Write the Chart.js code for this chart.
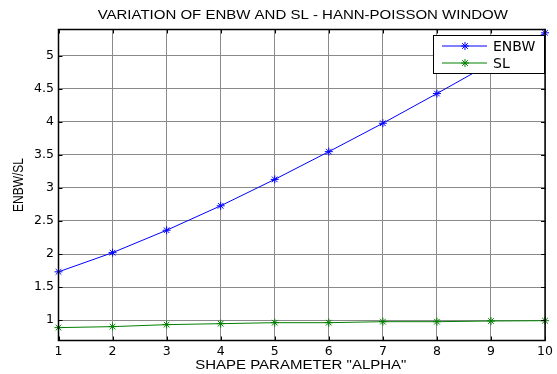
<!DOCTYPE html>
<html>
<head>
<meta charset="utf-8">
<script src="https://cdn.jsdelivr.net/npm/chart.js@4/dist/chart.umd.min.js"></script>
<style>
  html, body { margin: 0; padding: 0; background: #fff; }
  #wrap { width: 557px; height: 374px; }
</style>
</head>
<body>
<div id="wrap"><canvas id="hpChart" width="557" height="374"></canvas></div>
<script>
// values
const alpha = [1, 2, 3, 4, 5, 6, 7, 8, 9, 10];
const enbw = [1.73, 2.02, 2.36, 2.73, 3.13, 3.55, 3.98, 4.43, 4.89, 5.35];
const sl = [0.885, 0.90, 0.93, 0.945, 0.96, 0.96, 0.975, 0.975, 0.985, 0.99];
const yTicks = [1, 1.5, 2, 2.5, 3, 3.5, 4, 4.5, 5];
const xTicks = [1, 2, 3, 4, 5, 6, 7, 8, 9, 10];

const titleText = 'VARIATION OF ENBW AND SL - HANN-POISSON WINDOW';
const xTitleText = 'SHAPE PARAMETER "ALPHA"';
const yTitleText = 'ENBW/SL';

const FONT = 'DejaVu Sans, sans-serif';
const TFONT = 'Liberation Sans, Arial, sans-serif';
const STRETCH = 1.25; // the reference text looks widened

function toPoints(ys) {
  return alpha.map((a, i) => ({ x: a, y: ys[i] }));
}

// titles drawn by hand so they can be stretched like in the picture
const titlesPlugin = {
  id: 'titles',
  afterDraw(chart) {
    const { ctx, chartArea: a } = chart;
    const cx = (a.left + a.right) / 2;
    ctx.save();
    ctx.fillStyle = '#000';
    ctx.textAlign = 'center';
    ctx.textBaseline = 'middle';
    ctx.font = '12px ' + TFONT;

    ctx.save();
    ctx.translate(cx + 1, 16);
    ctx.scale(STRETCH, 1);
    ctx.fillText(titleText, 0, 0);
    ctx.restore();

    ctx.save();
    ctx.translate(cx - 1, 366);
    ctx.scale(STRETCH, 1);
    ctx.fillText(xTitleText, 0, 0);
    ctx.restore();

    ctx.save();
    ctx.translate(18.5, 185);
    ctx.rotate(-Math.PI / 2);
    ctx.scale(1, STRETCH);
    ctx.fillText(yTitleText, 0, 0);
    ctx.restore();

    ctx.restore();
  }
};

// black box round the plot plus small inward ticks (matlab style)
const boxPlugin = {
  id: 'box',
  afterDatasetsDraw(chart) {
    const { ctx, chartArea: a, scales } = chart;
    ctx.save();
    ctx.strokeStyle = '#000';
    ctx.lineWidth = 1;
    ctx.beginPath();
    scales.x.ticks.forEach(t => {
      const px = Math.round(scales.x.getPixelForValue(t.value)) + 0.5;
      ctx.moveTo(px, a.bottom); ctx.lineTo(px, a.bottom - 4);
      ctx.moveTo(px, a.top); ctx.lineTo(px, a.top + 4);
    });
    scales.y.ticks.forEach(t => {
      const py = Math.round(scales.y.getPixelForValue(t.value)) + 0.5;
      ctx.moveTo(a.left, py); ctx.lineTo(a.left + 4, py);
      ctx.moveTo(a.right, py); ctx.lineTo(a.right - 4, py);
    });
    ctx.stroke();
    ctx.lineWidth = 1.5;
    ctx.strokeRect(a.left, a.top, a.right - a.left, a.bottom - a.top);
    ctx.restore();
  }
};

// legend box in the top right corner
const legendPlugin = {
  id: 'boxLegend',
  afterDraw(chart) {
    const { ctx } = chart;
    const x0 = 433, y0 = 35, w = 111, h = 38;
    ctx.save();
    ctx.fillStyle = '#fff';
    ctx.fillRect(x0, y0, w, h);
    ctx.strokeStyle = '#000';
    ctx.lineWidth = 1;
    ctx.strokeRect(x0 + 0.5, y0 + 0.5, w, h);
    chart.data.datasets.forEach((ds, i) => {
      const y = y0 + 11 + i * 17;
      ctx.strokeStyle = ds.borderColor;
      ctx.lineWidth = 1;
      ctx.beginPath();
      ctx.moveTo(x0 + 9, y); ctx.lineTo(x0 + 54, y);
      ctx.stroke();
      Chart.helpers.drawPoint(ctx, { pointStyle: 'star', radius: 4, borderWidth: 1 }, x0 + 32, y);
      ctx.fillStyle = '#000';
      ctx.font = '14px ' + FONT;
      ctx.textBaseline = 'middle';
      ctx.textAlign = 'left';
      ctx.fillText(ds.label, x0 + 60, y + 1);
    });
    ctx.restore();
  }
};

const gridColor = '#8a8a8a';

const config = {
  type: 'line',
  data: {
    datasets: [
      {
        label: 'ENBW',
        data: toPoints(enbw),
        borderColor: '#0000ff',
        backgroundColor: '#0000ff',
        borderWidth: 1,
        pointStyle: 'star',
        pointRadius: 4,
        pointBorderWidth: 1,
        clip: false
      },
      {
        label: 'SL',
        data: toPoints(sl),
        borderColor: '#008000',
        backgroundColor: '#008000',
        borderWidth: 1,
        pointStyle: 'star',
        pointRadius: 4,
        pointBorderWidth: 1,
        clip: false
      }
    ]
  },
  options: {
    responsive: false,
    animation: false,
    layout: { padding: { left: 0, right: 8, top: 29.5, bottom: 0 } },
    plugins: {
      legend: { display: false },
      tooltip: { enabled: false },
      title: { display: false }
    },
    scales: {
      x: {
        type: 'linear',
        min: 1,
        max: 10,
        afterBuildTicks: s => { s.ticks = xTicks.map(v => ({ value: v })); },
        afterFit: s => { s.height = 33.5; },
        grid: { color: gridColor, drawTicks: false },
        border: { display: false },
        ticks: {
          color: '#000', padding: 4,
          font: { family: FONT, size: 12.5 },
          callback: v => String(v)
        }
      },
      y: {
        min: 0.69,
        max: 5.40,
        afterBuildTicks: s => { s.ticks = yTicks.map(v => ({ value: v })); },
        afterFit: s => { s.width = 58.5; },
        grid: { color: gridColor, drawTicks: false },
        border: { display: false },
        ticks: {
          color: '#000', padding: 4.5,
          font: { family: FONT, size: 12.5 },
          callback: v => String(v)
        }
      }
    }
  },
  plugins: [boxPlugin, legendPlugin, titlesPlugin]
};

new Chart(document.getElementById('hpChart').getContext('2d'), config);
</script>
</body>
</html>
